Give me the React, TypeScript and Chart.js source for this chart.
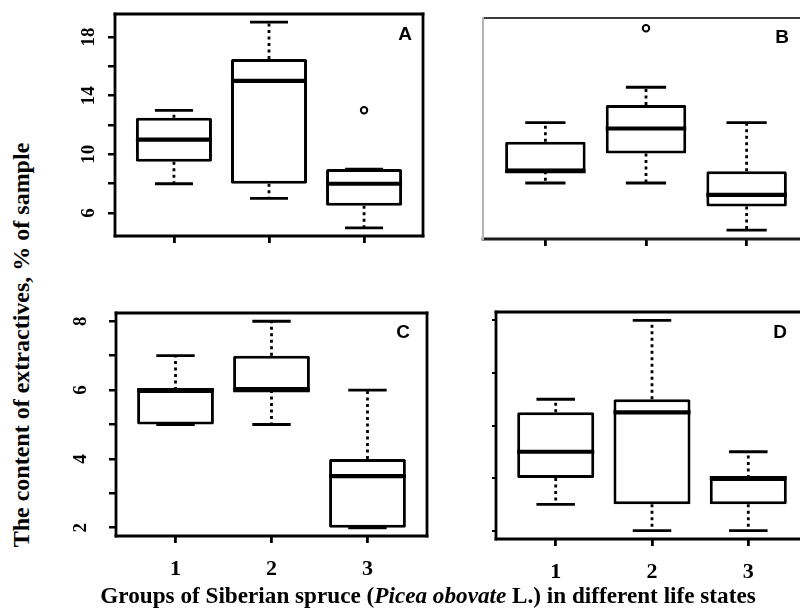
import React, { useEffect, useRef } from 'react';
import { Chart, registerables } from 'chart.js';

Chart.register(...registerables);

// ---------------- data ----------------
const groupLabels = ['1', '2', '3'];
const groupPositions = [1, 2, 3];
const xRange = [0.38, 3.62];

// Panel A
const aMin = [8, 7, 5];
const aQ1 = [9.5, 8, 6.5];
const aMedian = [11, 15, 8];
const aQ3 = [12.5, 16.5, 9];
const aMax = [13, 19, 9];
const aOutliers = [{ x: 3, y: 13 }];
const aYTicks = [6, 8, 10, 12, 14, 16, 18];
const aYLabels = [6, 10, 14, 18];
const aYRange = [4.44, 19.56];

// Panel B
const bMin = [8.3, 8.3, 5.1];
const bQ1 = [9.1, 10.3, 6.7];
const bMedian = [9.1, 12.0, 7.5];
const bQ3 = [11.1, 13.6, 9.1];
const bMax = [12.4, 14.8, 12.4];
const bOutliers = [{ x: 2, y: 18.8 }];
const bYTicks: number[] = [];
const bYLabels: number[] = [];
const bYRange = [4.5, 19.5];

// Panel C
const cMin = [5, 5, 2];
const cQ1 = [5, 6, 2];
const cMedian = [6, 6, 3.5];
const cQ3 = [6, 7, 4];
const cMax = [7, 8, 6];
const cOutliers: { x: number; y: number }[] = [];
const cYTicks = [2, 3, 4, 5, 6, 7, 8];
const cYLabels = [2, 4, 6, 8];
const cYRange = [1.76, 8.24];

// Panel D
const dMin = [1.5, 1, 1];
const dQ1 = [2, 1.5, 1.5];
const dMedian = [2.5, 3.25, 2];
const dQ3 = [3.25, 3.5, 2];
const dMax = [3.5, 5, 2.5];
const dOutliers: { x: number; y: number }[] = [];
const dYTicks = [1, 2, 3, 4, 5];
const dYLabels: number[] = [];
const dYRange = [0.84, 5.16];

const xTitle = ['Groups of Siberian spruce (', 'Picea obovate', ' L.) in different life states'];
const yTitle = 'The content of extractives, % of sample';

// ---------------- styles / layout ----------------
const PT = 6;
const PR = 6;
const BOX_HALF = 0.4;
const CAP_HALF = 0.2;

type Side = { color: string; width: number } | null;
type PanelCfg = {
  letter: string;
  mins: number[]; q1: number[]; med: number[]; q3: number[]; maxs: number[];
  outliers: { x: number; y: number }[];
  yTicks: number[]; yLabels: number[]; yRange: number[];
  left: number; top: number; right: number; bottom: number;
  yw: number; xh: number; yTickLen: number; yTickWidth: number; yPad: number;
  showX: boolean; letterDx: number; letterDy: number;
  frame: { top: Side; right: Side; bottom: Side; left: Side };
};

const blk = { color: '#000', width: 2.8 };

const panels: PanelCfg[] = [
  {
    letter: 'A', mins: aMin, q1: aQ1, med: aMedian, q3: aQ3, maxs: aMax, outliers: aOutliers,
    yTicks: aYTicks, yLabels: aYLabels, yRange: aYRange,
    left: 115, top: 14, right: 423, bottom: 236, yw: 60, xh: 16, yTickLen: 7, yTickWidth: 2.5, yPad: 9,
    showX: false, letterDx: -18, letterDy: 21,
    frame: { top: blk, right: blk, bottom: blk, left: blk },
  },
  {
    letter: 'B', mins: bMin, q1: bQ1, med: bMedian, q3: bQ3, maxs: bMax, outliers: bOutliers,
    yTicks: bYTicks, yLabels: bYLabels, yRange: bYRange,
    left: 483, top: 18, right: 809, bottom: 239, yw: 20, xh: 16, yTickLen: 0, yTickWidth: 0, yPad: 0,
    showX: false, letterDx: -27, letterDy: 20,
    frame: { top: { color: '#3c3c3c', width: 2.2 }, right: null, bottom: { color: '#1a1a1a', width: 2.8 }, left: { color: '#b4b4b4', width: 2 } },
  },
  {
    letter: 'C', mins: cMin, q1: cQ1, med: cMedian, q3: cQ3, maxs: cMax, outliers: cOutliers,
    yTicks: cYTicks, yLabels: cYLabels, yRange: cYRange,
    left: 116, top: 313, right: 427, bottom: 536, yw: 60, xh: 60, yTickLen: 7, yTickWidth: 2.5, yPad: 23,
    showX: true, letterDx: -24, letterDy: 20,
    frame: { top: blk, right: blk, bottom: blk, left: blk },
  },
  {
    letter: 'D', mins: dMin, q1: dQ1, med: dMedian, q3: dQ3, maxs: dMax, outliers: dOutliers,
    yTicks: dYTicks, yLabels: dYLabels, yRange: dYRange,
    left: 496, top: 312, right: 808, bottom: 539, yw: 20, xh: 60, yTickLen: 4, yTickWidth: 2, yPad: 0,
    showX: true, letterDx: -28, letterDy: 21,
    frame: { top: blk, right: blk, bottom: blk, left: blk },
  },
];

function segments(list: [number, number, number, number][]) {
  const pts: { x: number; y: number | null }[] = [];
  list.forEach(([x1, y1, x2, y2]) => {
    pts.push({ x: x1, y: y1 }, { x: x2, y: y2 }, { x: x2, y: null });
  });
  return pts;
}

const framePlugin = {
  id: 'frameLetter',
  afterDatasetsDraw(chart: any, _args: any, opts: any) {
    const { ctx, chartArea } = chart;
    const { left, top, right, bottom } = chartArea;
    const f = opts.frame;
    ctx.save();
    ctx.lineCap = 'square';
    const line = (s: Side, x1: number, y1: number, x2: number, y2: number) => {
      if (!s) return;
      ctx.strokeStyle = s.color;
      ctx.lineWidth = s.width;
      ctx.beginPath();
      ctx.moveTo(x1, y1);
      ctx.lineTo(x2, y2);
      ctx.stroke();
    };
    line(f.top, left, top, right, top);
    line(f.right, right, top, right, bottom);
    line(f.bottom, left, bottom, right, bottom);
    line(f.left, left, top, left, bottom);
    ctx.fillStyle = '#000';
    ctx.font = 'bold 19px "Liberation Sans", Arial, sans-serif';
    ctx.textAlign = 'center';
    ctx.textBaseline = 'middle';
    ctx.fillText(opts.letter, right + opts.dx, top + opts.dy);
    ctx.restore();
  },
};

function BoxPanel({ cfg }: { cfg: PanelCfg }) {
  const ref = useRef<HTMLCanvasElement>(null);
  const width = cfg.right - cfg.left + cfg.yw + PR;
  const height = cfg.bottom - cfg.top + PT + cfg.xh;

  useEffect(() => {
    const boxes = groupPositions.map((x, i) => ({ x, y: [cfg.q1[i], cfg.q3[i]] }));
    const whiskers = segments(
      groupPositions.flatMap((x, i) => [
        [x, cfg.q3[i], x, cfg.maxs[i]],
        [x, cfg.q1[i], x, cfg.mins[i]],
      ] as [number, number, number, number][])
    );
    const caps = segments(
      groupPositions.flatMap((x, i) => [
        [x - CAP_HALF, cfg.maxs[i], x + CAP_HALF, cfg.maxs[i]],
        [x - CAP_HALF, cfg.mins[i], x + CAP_HALF, cfg.mins[i]],
      ] as [number, number, number, number][])
    );
    const medians = segments(
      groupPositions.map((x, i) => [x - BOX_HALF, cfg.med[i], x + BOX_HALF, cfg.med[i]] as [number, number, number, number])
    );
    const lineBase = {
      type: 'line' as const,
      borderColor: '#000',
      pointRadius: 0,
      pointHoverRadius: 0,
      fill: false,
      tension: 0,
      spanGaps: false,
      borderCapStyle: 'butt' as const,
    };
    const serif = '"Liberation Serif", "Times New Roman", serif';

    const chart = new Chart(ref.current!, {
      type: 'bar',
      data: {
        datasets: [
          {
            type: 'scatter',
            data: cfg.outliers,
            pointRadius: 3.2,
            pointHoverRadius: 3.2,
            pointBorderWidth: 2,
            pointBackgroundColor: '#fff',
            pointBorderColor: '#000',
            showLine: false,
          } as any,
          { ...lineBase, data: medians, borderWidth: 4.2 } as any,
          { ...lineBase, data: caps, borderWidth: 2.8 } as any,
          { ...lineBase, data: whiskers, borderWidth: 2.8, borderDash: [3, 3.5] } as any,
          {
            type: 'bar',
            data: boxes,
            backgroundColor: '#fff',
            borderColor: '#000',
            borderWidth: 3,
            borderSkipped: false,
            borderRadius: 1.5,
            categoryPercentage: 1,
            barPercentage: 2 * BOX_HALF,
          } as any,
        ],
      },
      options: {
        responsive: false,
        animation: false,
        events: [],
        layout: { padding: { top: PT, right: PR, left: 0, bottom: 0 } },
        plugins: {
          legend: { display: false },
          tooltip: { enabled: false },
          title: { display: false },
          frameLetter: { frame: cfg.frame, letter: cfg.letter, dx: cfg.letterDx, dy: cfg.letterDy },
        } as any,
        scales: {
          x: {
            type: 'linear',
            min: xRange[0],
            max: xRange[1],
            offset: false,
            bounds: 'data',
            afterBuildTicks: (s: any) => {
              s.ticks = groupPositions.map((v) => ({ value: v }));
            },
            afterFit: (s: any) => {
              s.height = cfg.xh;
              s.paddingLeft = 0;
              s.paddingRight = 0;
            },
            grid: {
              display: true,
              offset: false,
              drawOnChartArea: false,
              drawTicks: true,
              tickLength: 7,
              lineWidth: 2.8,
              tickWidth: 2.8,
              color: '#000',
              tickColor: '#000',
            },
            border: { display: false },
            ticks: {
              display: cfg.showX,
              autoSkip: false,
              maxRotation: 0,
              minRotation: 0,
              padding: 13,
              color: '#000',
              font: { family: serif, size: 22, weight: 'bold' },
              callback: (_v: any, i: number) => groupLabels[i],
            },
          } as any,
          y: {
            type: 'linear',
            min: cfg.yRange[0],
            max: cfg.yRange[1],
            bounds: 'data',
            afterBuildTicks: (s: any) => {
              s.ticks = cfg.yTicks.map((v) => ({ value: v }));
            },
            afterFit: (s: any) => {
              s.width = cfg.yw;
              s.paddingTop = 0;
              s.paddingBottom = 0;
            },
            grid: {
              display: cfg.yTickLen > 0,
              drawOnChartArea: false,
              drawTicks: cfg.yTickLen > 0,
              tickLength: cfg.yTickLen,
              lineWidth: cfg.yTickWidth,
              tickWidth: cfg.yTickWidth,
              color: '#000',
              tickColor: '#000',
            },
            border: { display: false },
            ticks: {
              display: cfg.yLabels.length > 0,
              autoSkip: false,
              minRotation: 90,
              maxRotation: 90,
              crossAlign: 'center',
              padding: cfg.yPad,
              color: '#000',
              font: { family: serif, size: 19, weight: 'bold' },
              callback: (v: any) => (cfg.yLabels.includes(Number(v)) ? String(v) : ''),
            },
          } as any,
        },
      },
      plugins: [framePlugin],
    });
    return () => chart.destroy();
  }, []);

  return (
    <canvas
      ref={ref}
      width={width}
      height={height}
      style={{ position: 'absolute', left: cfg.left - cfg.yw, top: cfg.top - PT, width, height }}
    />
  );
}

export default function App() {
  const serif = '"Liberation Serif", "Times New Roman", serif';
  return (
    <div
      style={{
        position: 'absolute',
        left: 0,
        top: 0,
        width: 800,
        height: 612,
        overflow: 'hidden',
        background: '#fff',
      }}
    >
      {panels.map((p) => (
        <BoxPanel key={p.letter} cfg={p} />
      ))}
      <div
        style={{
          position: 'absolute',
          left: 21,
          top: 345,
          transform: 'translate(-50%, -50%) rotate(-90deg)',
          whiteSpace: 'nowrap',
          font: `bold 24px ${serif}`,
          lineHeight: '24px',
          color: '#000',
        }}
      >
        {yTitle}
      </div>
      <div
        style={{
          position: 'absolute',
          left: 428,
          top: 584,
          transform: 'translateX(-50%)',
          whiteSpace: 'nowrap',
          font: `bold 23.2px ${serif}`,
          lineHeight: '23.2px',
          color: '#000',
        }}
      >
        {xTitle[0]}
        <i>{xTitle[1]}</i>
        {xTitle[2]}
      </div>
    </div>
  );
}
